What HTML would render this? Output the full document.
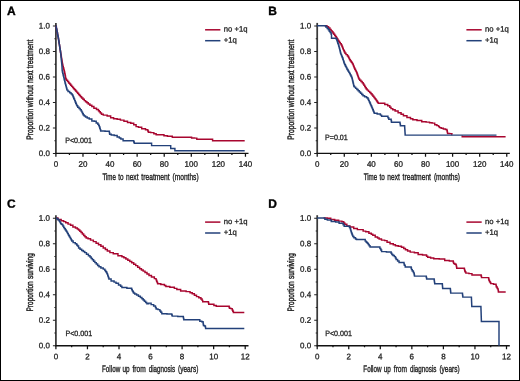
<!DOCTYPE html>
<html><head><meta charset="utf-8"><style>
html,body{margin:0;padding:0;background:#fff;}
svg{display:block;will-change:transform;}
text{font-family:"Liberation Sans",sans-serif;fill:#222;stroke:#222;stroke-width:0.28px;text-rendering:geometricPrecision;}
</style></head><body>
<svg width="520" height="381" viewBox="0 0 520 381">
<rect x="0" y="0" width="520" height="381" fill="#fff"/>
<path d="M55.90 22.90V153.45" fill="none" stroke="#3a3a3a" stroke-width="1.75"/>
<path d="M55.10 153.45H248.50" fill="none" stroke="#111" stroke-width="1.3"/>
<path d="M52.90 153.45H55.90M54.40 140.70H55.90M52.90 127.96H55.90M54.40 115.21H55.90M52.90 102.47H55.90M54.40 89.72H55.90M52.90 76.98H55.90M54.40 64.23H55.90M52.90 51.49H55.90M54.40 38.74H55.90M52.90 26.00H55.90" fill="none" stroke="#222" stroke-width="1.1"/>
<path d="M55.90 153.45V156.85M69.44 153.45V155.05M82.98 153.45V156.85M96.52 153.45V155.05M110.06 153.45V156.85M123.60 153.45V155.05M137.14 153.45V156.85M150.68 153.45V155.05M164.22 153.45V156.85M177.76 153.45V155.05M191.30 153.45V156.85M204.84 153.45V155.05M218.38 153.45V156.85M231.92 153.45V155.05M245.46 153.45V156.85" fill="none" stroke="#111" stroke-width="1.25"/>
<text transform="matrix(1 0.0005 0 1 0 -0.0249)" x="49.90" y="155.90" text-anchor="end" font-size="8.0">0.0</text>
<text transform="matrix(1 0.0005 0 1 0 -0.0249)" x="49.90" y="130.41" text-anchor="end" font-size="8.0">0.2</text>
<text transform="matrix(1 0.0005 0 1 0 -0.0249)" x="49.90" y="104.92" text-anchor="end" font-size="8.0">0.4</text>
<text transform="matrix(1 0.0005 0 1 0 -0.0249)" x="49.90" y="79.43" text-anchor="end" font-size="8.0">0.6</text>
<text transform="matrix(1 0.0005 0 1 0 -0.0249)" x="49.90" y="53.94" text-anchor="end" font-size="8.0">0.8</text>
<text transform="matrix(1 0.0005 0 1 0 -0.0249)" x="49.90" y="28.45" text-anchor="end" font-size="8.0">1.0</text>
<text transform="matrix(1 0.0005 0 1 0 -0.0279)" x="55.90" y="166.85" text-anchor="middle" font-size="8.0">0</text>
<text transform="matrix(1 0.0005 0 1 0 -0.0415)" x="82.98" y="166.85" text-anchor="middle" font-size="8.0">20</text>
<text transform="matrix(1 0.0005 0 1 0 -0.0550)" x="110.06" y="166.85" text-anchor="middle" font-size="8.0">40</text>
<text transform="matrix(1 0.0005 0 1 0 -0.0686)" x="137.14" y="166.85" text-anchor="middle" font-size="8.0">60</text>
<text transform="matrix(1 0.0005 0 1 0 -0.0821)" x="164.22" y="166.85" text-anchor="middle" font-size="8.0">80</text>
<text transform="matrix(1 0.0005 0 1 0 -0.0957)" x="191.30" y="166.85" text-anchor="middle" font-size="8.0">100</text>
<text transform="matrix(1 0.0005 0 1 0 -0.1092)" x="218.38" y="166.85" text-anchor="middle" font-size="8.0">120</text>
<text transform="matrix(1 0.0005 0 1 0 -0.1227)" x="245.46" y="166.85" text-anchor="middle" font-size="8.0">140</text>
<text transform="matrix(1 0.0005 0 1 0 -0.0512)" x="102.40" y="179.60" font-size="9.4" style="stroke-width:0.36px" textLength="13.50" lengthAdjust="spacingAndGlyphs">Time</text>
<text transform="matrix(1 0.0005 0 1 0 -0.0592)" x="118.30" y="179.60" font-size="9.4" style="stroke-width:0.36px" textLength="5.30" lengthAdjust="spacingAndGlyphs">to</text>
<text transform="matrix(1 0.0005 0 1 0 -0.0630)" x="126.00" y="179.60" font-size="9.4" style="stroke-width:0.36px" textLength="12.50" lengthAdjust="spacingAndGlyphs">next</text>
<text transform="matrix(1 0.0005 0 1 0 -0.0707)" x="141.30" y="179.60" font-size="9.4" style="stroke-width:0.36px" textLength="28.40" lengthAdjust="spacingAndGlyphs">treatment</text>
<text transform="matrix(1 0.0005 0 1 0 -0.0863)" x="172.60" y="179.60" font-size="9.4" style="stroke-width:0.36px" textLength="26.00" lengthAdjust="spacingAndGlyphs">(months)</text>
<text transform="translate(33.10 139.80) rotate(-90) matrix(1 0.0005 0 1 0 0)" x="0" y="0" font-size="9.4" style="stroke-width:0.4px" textLength="31.10" lengthAdjust="spacingAndGlyphs">Proportion</text>
<text transform="translate(33.10 107.20) rotate(-90) matrix(1 0.0005 0 1 0 0)" x="0" y="0" font-size="9.4" style="stroke-width:0.4px" textLength="22.10" lengthAdjust="spacingAndGlyphs">without</text>
<text transform="translate(33.10 82.90) rotate(-90) matrix(1 0.0005 0 1 0 0)" x="0" y="0" font-size="9.4" style="stroke-width:0.4px" textLength="12.50" lengthAdjust="spacingAndGlyphs">next</text>
<text transform="translate(33.10 68.40) rotate(-90) matrix(1 0.0005 0 1 0 0)" x="0" y="0" font-size="9.4" style="stroke-width:0.4px" textLength="28.90" lengthAdjust="spacingAndGlyphs">treatment</text>
<text transform="matrix(1 0.0005 0 1 0 -0.0326)" x="65.20" y="142.70" font-size="7.7" textLength="26.7" lengthAdjust="spacingAndGlyphs">P&lt;0.001</text>
<path d="M205.10 29.80H220.40" stroke="#a8062f" stroke-width="1.5"/>
<path d="M205.10 40.70H220.40" stroke="#23417a" stroke-width="1.5"/>
<text transform="matrix(1 0.0005 0 1 0 -0.1119)" x="223.80" y="31.60" font-size="7.7">no +1q</text>
<text transform="matrix(1 0.0005 0 1 0 -0.1119)" x="223.80" y="42.50" font-size="7.7">+1q</text>
<text transform="matrix(1 0.0005 0 1 0 -0.0035)" x="6.90" y="15.00" font-size="12" font-weight="bold" style="fill:#000;stroke:#000;stroke-width:0.35px">A</text>
<path d="M317.20 22.90V153.45" fill="none" stroke="#3a3a3a" stroke-width="1.75"/>
<path d="M316.40 153.45H509.80" fill="none" stroke="#111" stroke-width="1.3"/>
<path d="M314.20 153.45H317.20M315.70 140.70H317.20M314.20 127.96H317.20M315.70 115.21H317.20M314.20 102.47H317.20M315.70 89.72H317.20M314.20 76.98H317.20M315.70 64.23H317.20M314.20 51.49H317.20M315.70 38.74H317.20M314.20 26.00H317.20" fill="none" stroke="#222" stroke-width="1.1"/>
<path d="M317.20 153.45V156.85M330.74 153.45V155.05M344.28 153.45V156.85M357.82 153.45V155.05M371.36 153.45V156.85M384.90 153.45V155.05M398.44 153.45V156.85M411.98 153.45V155.05M425.52 153.45V156.85M439.06 153.45V155.05M452.60 153.45V156.85M466.14 153.45V155.05M479.68 153.45V156.85M493.22 153.45V155.05M506.76 153.45V156.85" fill="none" stroke="#111" stroke-width="1.25"/>
<text transform="matrix(1 0.0005 0 1 0 -0.1556)" x="311.20" y="155.90" text-anchor="end" font-size="8.0">0.0</text>
<text transform="matrix(1 0.0005 0 1 0 -0.1556)" x="311.20" y="130.41" text-anchor="end" font-size="8.0">0.2</text>
<text transform="matrix(1 0.0005 0 1 0 -0.1556)" x="311.20" y="104.92" text-anchor="end" font-size="8.0">0.4</text>
<text transform="matrix(1 0.0005 0 1 0 -0.1556)" x="311.20" y="79.43" text-anchor="end" font-size="8.0">0.6</text>
<text transform="matrix(1 0.0005 0 1 0 -0.1556)" x="311.20" y="53.94" text-anchor="end" font-size="8.0">0.8</text>
<text transform="matrix(1 0.0005 0 1 0 -0.1556)" x="311.20" y="28.45" text-anchor="end" font-size="8.0">1.0</text>
<text transform="matrix(1 0.0005 0 1 0 -0.1586)" x="317.20" y="166.85" text-anchor="middle" font-size="8.0">0</text>
<text transform="matrix(1 0.0005 0 1 0 -0.1721)" x="344.28" y="166.85" text-anchor="middle" font-size="8.0">20</text>
<text transform="matrix(1 0.0005 0 1 0 -0.1857)" x="371.36" y="166.85" text-anchor="middle" font-size="8.0">40</text>
<text transform="matrix(1 0.0005 0 1 0 -0.1992)" x="398.44" y="166.85" text-anchor="middle" font-size="8.0">60</text>
<text transform="matrix(1 0.0005 0 1 0 -0.2128)" x="425.52" y="166.85" text-anchor="middle" font-size="8.0">80</text>
<text transform="matrix(1 0.0005 0 1 0 -0.2263)" x="452.60" y="166.85" text-anchor="middle" font-size="8.0">100</text>
<text transform="matrix(1 0.0005 0 1 0 -0.2398)" x="479.68" y="166.85" text-anchor="middle" font-size="8.0">120</text>
<text transform="matrix(1 0.0005 0 1 0 -0.2534)" x="506.76" y="166.85" text-anchor="middle" font-size="8.0">140</text>
<text transform="matrix(1 0.0005 0 1 0 -0.1819)" x="363.70" y="179.60" font-size="9.4" style="stroke-width:0.36px" textLength="13.50" lengthAdjust="spacingAndGlyphs">Time</text>
<text transform="matrix(1 0.0005 0 1 0 -0.1898)" x="379.60" y="179.60" font-size="9.4" style="stroke-width:0.36px" textLength="5.30" lengthAdjust="spacingAndGlyphs">to</text>
<text transform="matrix(1 0.0005 0 1 0 -0.1937)" x="387.30" y="179.60" font-size="9.4" style="stroke-width:0.36px" textLength="12.50" lengthAdjust="spacingAndGlyphs">next</text>
<text transform="matrix(1 0.0005 0 1 0 -0.2013)" x="402.60" y="179.60" font-size="9.4" style="stroke-width:0.36px" textLength="28.40" lengthAdjust="spacingAndGlyphs">treatment</text>
<text transform="matrix(1 0.0005 0 1 0 -0.2170)" x="433.90" y="179.60" font-size="9.4" style="stroke-width:0.36px" textLength="26.00" lengthAdjust="spacingAndGlyphs">(months)</text>
<text transform="translate(294.40 139.80) rotate(-90) matrix(1 0.0005 0 1 0 0)" x="0" y="0" font-size="9.4" style="stroke-width:0.4px" textLength="31.10" lengthAdjust="spacingAndGlyphs">Proportion</text>
<text transform="translate(294.40 107.20) rotate(-90) matrix(1 0.0005 0 1 0 0)" x="0" y="0" font-size="9.4" style="stroke-width:0.4px" textLength="22.10" lengthAdjust="spacingAndGlyphs">without</text>
<text transform="translate(294.40 82.90) rotate(-90) matrix(1 0.0005 0 1 0 0)" x="0" y="0" font-size="9.4" style="stroke-width:0.4px" textLength="12.50" lengthAdjust="spacingAndGlyphs">next</text>
<text transform="translate(294.40 68.40) rotate(-90) matrix(1 0.0005 0 1 0 0)" x="0" y="0" font-size="9.4" style="stroke-width:0.4px" textLength="28.90" lengthAdjust="spacingAndGlyphs">treatment</text>
<text transform="matrix(1 0.0005 0 1 0 -0.1625)" x="325.00" y="140.40" font-size="7.7" textLength="22.8" lengthAdjust="spacingAndGlyphs">P=0.01</text>
<path d="M466.40 29.80H481.70" stroke="#a8062f" stroke-width="1.5"/>
<path d="M466.40 40.70H481.70" stroke="#23417a" stroke-width="1.5"/>
<text transform="matrix(1 0.0005 0 1 0 -0.2426)" x="485.10" y="31.60" font-size="7.7">no +1q</text>
<text transform="matrix(1 0.0005 0 1 0 -0.2426)" x="485.10" y="42.50" font-size="7.7">+1q</text>
<text transform="matrix(1 0.0005 0 1 0 -0.1341)" x="268.20" y="15.00" font-size="12" font-weight="bold" style="fill:#000;stroke:#000;stroke-width:0.35px">B</text>
<path d="M55.90 215.20V345.75" fill="none" stroke="#3a3a3a" stroke-width="1.75"/>
<path d="M55.10 345.75H248.50" fill="none" stroke="#111" stroke-width="1.3"/>
<path d="M52.90 345.75H55.90M54.40 333.00H55.90M52.90 320.26H55.90M54.40 307.51H55.90M52.90 294.77H55.90M54.40 282.02H55.90M52.90 269.28H55.90M54.40 256.53H55.90M52.90 243.79H55.90M54.40 231.05H55.90M52.90 218.30H55.90" fill="none" stroke="#222" stroke-width="1.1"/>
<path d="M55.90 345.75V349.15M71.67 345.75V347.35M87.45 345.75V349.15M103.22 345.75V347.35M119.00 345.75V349.15M134.78 345.75V347.35M150.55 345.75V349.15M166.32 345.75V347.35M182.10 345.75V349.15M197.88 345.75V347.35M213.65 345.75V349.15M229.43 345.75V347.35M245.20 345.75V349.15" fill="none" stroke="#111" stroke-width="1.25"/>
<text transform="matrix(1 0.0005 0 1 0 -0.0249)" x="49.90" y="348.20" text-anchor="end" font-size="8.0">0.0</text>
<text transform="matrix(1 0.0005 0 1 0 -0.0249)" x="49.90" y="322.71" text-anchor="end" font-size="8.0">0.2</text>
<text transform="matrix(1 0.0005 0 1 0 -0.0249)" x="49.90" y="297.22" text-anchor="end" font-size="8.0">0.4</text>
<text transform="matrix(1 0.0005 0 1 0 -0.0249)" x="49.90" y="271.73" text-anchor="end" font-size="8.0">0.6</text>
<text transform="matrix(1 0.0005 0 1 0 -0.0249)" x="49.90" y="246.24" text-anchor="end" font-size="8.0">0.8</text>
<text transform="matrix(1 0.0005 0 1 0 -0.0249)" x="49.90" y="220.75" text-anchor="end" font-size="8.0">1.0</text>
<text transform="matrix(1 0.0005 0 1 0 -0.0279)" x="55.90" y="359.15" text-anchor="middle" font-size="8.0">0</text>
<text transform="matrix(1 0.0005 0 1 0 -0.0437)" x="87.45" y="359.15" text-anchor="middle" font-size="8.0">2</text>
<text transform="matrix(1 0.0005 0 1 0 -0.0595)" x="119.00" y="359.15" text-anchor="middle" font-size="8.0">4</text>
<text transform="matrix(1 0.0005 0 1 0 -0.0753)" x="150.55" y="359.15" text-anchor="middle" font-size="8.0">6</text>
<text transform="matrix(1 0.0005 0 1 0 -0.0911)" x="182.10" y="359.15" text-anchor="middle" font-size="8.0">8</text>
<text transform="matrix(1 0.0005 0 1 0 -0.1068)" x="213.65" y="359.15" text-anchor="middle" font-size="8.0">10</text>
<text transform="matrix(1 0.0005 0 1 0 -0.1226)" x="245.20" y="359.15" text-anchor="middle" font-size="8.0">12</text>
<text transform="matrix(1 0.0005 0 1 0 -0.0510)" x="102.00" y="371.90" font-size="9.4" style="stroke-width:0.36px" textLength="18.20" lengthAdjust="spacingAndGlyphs">Follow</text>
<text transform="matrix(1 0.0005 0 1 0 -0.0612)" x="122.50" y="371.90" font-size="9.4" style="stroke-width:0.36px" textLength="7.10" lengthAdjust="spacingAndGlyphs">up</text>
<text transform="matrix(1 0.0005 0 1 0 -0.0663)" x="132.50" y="371.90" font-size="9.4" style="stroke-width:0.36px" textLength="13.20" lengthAdjust="spacingAndGlyphs">from</text>
<text transform="matrix(1 0.0005 0 1 0 -0.0743)" x="148.70" y="371.90" font-size="9.4" style="stroke-width:0.36px" textLength="26.40" lengthAdjust="spacingAndGlyphs">diagnosis</text>
<text transform="matrix(1 0.0005 0 1 0 -0.0891)" x="178.10" y="371.90" font-size="9.4" style="stroke-width:0.36px" textLength="20.20" lengthAdjust="spacingAndGlyphs">(years)</text>
<text transform="translate(33.10 311.50) rotate(-90) matrix(1 0.0005 0 1 0 0)" x="0" y="0" font-size="9.4" style="stroke-width:0.4px" textLength="30.20" lengthAdjust="spacingAndGlyphs">Proportion</text>
<text transform="translate(33.10 278.90) rotate(-90) matrix(1 0.0005 0 1 0 0)" x="0" y="0" font-size="9.4" style="stroke-width:0.4px" textLength="25.70" lengthAdjust="spacingAndGlyphs">surviving</text>
<text transform="matrix(1 0.0005 0 1 0 -0.0327)" x="65.40" y="335.80" font-size="7.7" textLength="26.7" lengthAdjust="spacingAndGlyphs">P&lt;0.001</text>
<path d="M205.10 222.10H220.40" stroke="#a8062f" stroke-width="1.5"/>
<path d="M205.10 233.00H220.40" stroke="#23417a" stroke-width="1.5"/>
<text transform="matrix(1 0.0005 0 1 0 -0.1119)" x="223.80" y="223.90" font-size="7.7">no +1q</text>
<text transform="matrix(1 0.0005 0 1 0 -0.1119)" x="223.80" y="234.80" font-size="7.7">+1q</text>
<text transform="matrix(1 0.0005 0 1 0 -0.0035)" x="6.90" y="207.70" font-size="12" font-weight="bold" style="fill:#000;stroke:#000;stroke-width:0.35px">C</text>
<path d="M317.20 215.20V345.75" fill="none" stroke="#3a3a3a" stroke-width="1.75"/>
<path d="M316.40 345.75H509.80" fill="none" stroke="#111" stroke-width="1.3"/>
<path d="M314.20 345.75H317.20M315.70 333.00H317.20M314.20 320.26H317.20M315.70 307.51H317.20M314.20 294.77H317.20M315.70 282.02H317.20M314.20 269.28H317.20M315.70 256.53H317.20M314.20 243.79H317.20M315.70 231.05H317.20M314.20 218.30H317.20" fill="none" stroke="#222" stroke-width="1.1"/>
<path d="M317.20 345.75V349.15M332.97 345.75V347.35M348.75 345.75V349.15M364.52 345.75V347.35M380.30 345.75V349.15M396.07 345.75V347.35M411.85 345.75V349.15M427.62 345.75V347.35M443.40 345.75V349.15M459.17 345.75V347.35M474.95 345.75V349.15M490.73 345.75V347.35M506.50 345.75V349.15" fill="none" stroke="#111" stroke-width="1.25"/>
<text transform="matrix(1 0.0005 0 1 0 -0.1556)" x="311.20" y="348.20" text-anchor="end" font-size="8.0">0.0</text>
<text transform="matrix(1 0.0005 0 1 0 -0.1556)" x="311.20" y="322.71" text-anchor="end" font-size="8.0">0.2</text>
<text transform="matrix(1 0.0005 0 1 0 -0.1556)" x="311.20" y="297.22" text-anchor="end" font-size="8.0">0.4</text>
<text transform="matrix(1 0.0005 0 1 0 -0.1556)" x="311.20" y="271.73" text-anchor="end" font-size="8.0">0.6</text>
<text transform="matrix(1 0.0005 0 1 0 -0.1556)" x="311.20" y="246.24" text-anchor="end" font-size="8.0">0.8</text>
<text transform="matrix(1 0.0005 0 1 0 -0.1556)" x="311.20" y="220.75" text-anchor="end" font-size="8.0">1.0</text>
<text transform="matrix(1 0.0005 0 1 0 -0.1586)" x="317.20" y="359.15" text-anchor="middle" font-size="8.0">0</text>
<text transform="matrix(1 0.0005 0 1 0 -0.1744)" x="348.75" y="359.15" text-anchor="middle" font-size="8.0">2</text>
<text transform="matrix(1 0.0005 0 1 0 -0.1902)" x="380.30" y="359.15" text-anchor="middle" font-size="8.0">4</text>
<text transform="matrix(1 0.0005 0 1 0 -0.2059)" x="411.85" y="359.15" text-anchor="middle" font-size="8.0">6</text>
<text transform="matrix(1 0.0005 0 1 0 -0.2217)" x="443.40" y="359.15" text-anchor="middle" font-size="8.0">8</text>
<text transform="matrix(1 0.0005 0 1 0 -0.2375)" x="474.95" y="359.15" text-anchor="middle" font-size="8.0">10</text>
<text transform="matrix(1 0.0005 0 1 0 -0.2533)" x="506.50" y="359.15" text-anchor="middle" font-size="8.0">12</text>
<text transform="matrix(1 0.0005 0 1 0 -0.1817)" x="363.30" y="371.90" font-size="9.4" style="stroke-width:0.36px" textLength="18.20" lengthAdjust="spacingAndGlyphs">Follow</text>
<text transform="matrix(1 0.0005 0 1 0 -0.1919)" x="383.80" y="371.90" font-size="9.4" style="stroke-width:0.36px" textLength="7.10" lengthAdjust="spacingAndGlyphs">up</text>
<text transform="matrix(1 0.0005 0 1 0 -0.1969)" x="393.80" y="371.90" font-size="9.4" style="stroke-width:0.36px" textLength="13.20" lengthAdjust="spacingAndGlyphs">from</text>
<text transform="matrix(1 0.0005 0 1 0 -0.2050)" x="410.00" y="371.90" font-size="9.4" style="stroke-width:0.36px" textLength="26.40" lengthAdjust="spacingAndGlyphs">diagnosis</text>
<text transform="matrix(1 0.0005 0 1 0 -0.2197)" x="439.40" y="371.90" font-size="9.4" style="stroke-width:0.36px" textLength="20.20" lengthAdjust="spacingAndGlyphs">(years)</text>
<text transform="translate(294.40 311.50) rotate(-90) matrix(1 0.0005 0 1 0 0)" x="0" y="0" font-size="9.4" style="stroke-width:0.4px" textLength="30.20" lengthAdjust="spacingAndGlyphs">Proportion</text>
<text transform="translate(294.40 278.90) rotate(-90) matrix(1 0.0005 0 1 0 0)" x="0" y="0" font-size="9.4" style="stroke-width:0.4px" textLength="25.70" lengthAdjust="spacingAndGlyphs">surviving</text>
<text transform="matrix(1 0.0005 0 1 0 -0.1626)" x="325.20" y="335.80" font-size="7.7" textLength="26.7" lengthAdjust="spacingAndGlyphs">P&lt;0.001</text>
<path d="M466.40 222.10H481.70" stroke="#a8062f" stroke-width="1.5"/>
<path d="M466.40 233.00H481.70" stroke="#23417a" stroke-width="1.5"/>
<text transform="matrix(1 0.0005 0 1 0 -0.2426)" x="485.10" y="223.90" font-size="7.7">no +1q</text>
<text transform="matrix(1 0.0005 0 1 0 -0.2426)" x="485.10" y="234.80" font-size="7.7">+1q</text>
<text transform="matrix(1 0.0005 0 1 0 -0.1341)" x="268.20" y="207.70" font-size="12" font-weight="bold" style="fill:#000;stroke:#000;stroke-width:0.35px">D</text>
<path d="M56.00 26.00 L56.13 26.00 L56.13 27.36 L56.40 27.36 L56.40 28.71 L56.67 28.71 L56.67 30.07 L56.93 30.07 L56.93 31.42 L57.20 31.42 L57.20 32.78 L57.47 32.78 L57.47 34.13 L57.73 34.13 L57.73 35.49 L58.00 35.49 L58.00 36.84 L58.27 36.84 L58.27 38.20 L58.40 38.20 L58.50 38.20 L58.50 39.48 L58.70 39.48 L58.70 40.76 L58.90 40.76 L58.90 42.05 L59.10 42.05 L59.10 43.33 L59.30 43.33 L59.30 44.61 L59.50 44.61 L59.50 45.89 L59.70 45.89 L59.70 47.17 L59.90 47.17 L59.90 48.45 L60.10 48.45 L60.10 49.74 L60.30 49.74 L60.30 51.02 L60.50 51.02 L60.50 52.30 L60.60 52.30 L60.70 52.30 L60.70 53.57 L60.91 53.57 L60.91 54.84 L61.12 54.84 L61.12 56.11 L61.34 56.11 L61.34 57.38 L61.55 57.38 L61.55 58.65 L61.76 58.65 L61.76 59.92 L61.97 59.92 L61.97 61.19 L62.18 61.19 L62.18 62.46 L62.39 62.46 L62.39 63.73 L62.60 63.73 L62.60 65.00 L62.70 65.00 L62.89 65.00 L62.89 66.38 L63.26 66.38 L63.26 67.75 L63.64 67.75 L63.64 69.12 L64.01 69.12 L64.01 70.50 L64.20 70.50 L64.37 70.50 L64.37 72.00 L64.70 72.00 L64.70 73.50 L65.03 73.50 L65.03 75.00 L65.20 75.00 L65.32 75.00 L65.32 76.30 L65.55 76.30 L65.55 77.60 L65.78 77.60 L65.78 78.90 L65.90 78.90 L66.45 78.90 L66.45 80.23 L67.55 80.23 L67.55 81.57 L68.65 81.57 L68.65 82.90 L69.20 82.90 L69.69 82.90 L69.69 84.05 L70.66 84.05 L70.66 85.20 L71.64 85.20 L71.64 86.35 L72.61 86.35 L72.61 87.50 L73.10 87.50 L73.60 87.50 L73.60 88.65 L74.60 88.65 L74.60 89.80 L75.60 89.80 L75.60 90.95 L76.60 90.95 L76.60 92.10 L77.10 92.10 L77.59 92.10 L77.59 93.25 L78.56 93.25 L78.56 94.40 L79.54 94.40 L79.54 95.55 L80.51 95.55 L80.51 96.70 L81.00 96.70 L81.65 96.70 L81.65 98.00 L82.95 98.00 L82.95 99.30 L84.25 99.30 L84.25 100.60 L84.90 100.60 L85.57 100.60 L85.57 101.70 L86.90 101.70 L86.90 102.80 L88.23 102.80 L88.23 103.90 L88.90 103.90 L89.88 103.90 L89.88 105.20 L91.82 105.20 L91.82 106.50 L92.80 106.50 L93.90 106.50 L93.90 108.30 L95.00 108.30 L96.50 108.30 L96.50 109.50 L98.00 109.50 L98.42 109.50 L98.42 110.65 L99.28 110.65 L99.28 111.80 L99.70 111.80 L100.30 111.80 L100.30 113.00 L101.50 113.00 L101.50 114.20 L102.10 114.20 L103.30 114.20 L103.30 115.10 L104.50 115.10 L107.15 115.10 L107.15 116.00 L109.80 116.00 L110.65 116.00 L110.65 117.70 L111.50 117.70 L113.60 117.70 L113.60 118.70 L115.70 118.70 L117.15 118.70 L117.15 119.30 L118.60 119.30 L120.40 119.30 L120.40 120.10 L122.20 120.10 L123.95 120.10 L123.95 121.30 L125.70 121.30 L127.50 121.30 L127.50 122.50 L129.30 122.50 L130.75 122.50 L130.75 123.30 L132.20 123.30 L133.70 123.30 L133.70 124.80 L135.20 124.80 L136.10 124.80 L136.10 126.60 L137.00 126.60 L138.45 126.60 L138.45 127.20 L139.90 127.20 L141.70 127.20 L141.70 128.70 L143.50 128.70 L145.50 128.70 L145.50 129.80 L147.50 129.80 L147.80 129.80 L147.80 131.00 L148.40 131.00 L148.40 132.20 L148.70 132.20 L150.70 132.20 L150.70 132.60 L152.70 132.60 L153.85 132.60 L153.85 133.80 L155.00 133.80 L156.15 133.80 L156.15 134.70 L157.30 134.70 L163.10 134.70 L163.95 134.70 L163.95 135.80 L164.80 135.80 L167.40 135.80 L167.40 136.20 L170.00 136.20 L172.30 136.20 L172.30 137.20 L174.60 137.20 L190.70 137.20 L191.60 137.20 L191.60 137.90 L192.50 137.90 L194.50 137.90 L194.50 138.10 L196.50 138.10 L196.80 138.10 L196.80 139.30 L197.10 139.30 L212.60 139.30 L212.60 140.80 L244.70 140.80" fill="none" stroke="#a8062f" stroke-width="1.45" stroke-linejoin="miter"/>
<path d="M56.00 26.00 L56.13 26.00 L56.13 27.36 L56.40 27.36 L56.40 28.71 L56.67 28.71 L56.67 30.07 L56.93 30.07 L56.93 31.42 L57.20 31.42 L57.20 32.78 L57.47 32.78 L57.47 34.13 L57.73 34.13 L57.73 35.49 L58.00 35.49 L58.00 36.84 L58.27 36.84 L58.27 38.20 L58.40 38.20 L58.50 38.20 L58.50 39.48 L58.70 39.48 L58.70 40.76 L58.90 40.76 L58.90 42.05 L59.10 42.05 L59.10 43.33 L59.30 43.33 L59.30 44.61 L59.50 44.61 L59.50 45.89 L59.70 45.89 L59.70 47.17 L59.90 47.17 L59.90 48.45 L60.10 48.45 L60.10 49.74 L60.30 49.74 L60.30 51.02 L60.50 51.02 L60.50 52.30 L60.60 52.30 L60.66 52.30 L60.66 53.57 L60.80 53.57 L60.80 54.84 L60.93 54.84 L60.93 56.11 L61.06 56.11 L61.06 57.38 L61.19 57.38 L61.19 58.65 L61.32 58.65 L61.32 59.92 L61.45 59.92 L61.45 61.19 L61.58 61.19 L61.58 62.46 L61.71 62.46 L61.71 63.73 L61.84 63.73 L61.84 65.00 L61.90 65.00 L61.94 65.00 L61.94 66.38 L62.01 66.38 L62.01 67.75 L62.09 67.75 L62.09 69.12 L62.16 69.12 L62.16 70.50 L62.20 70.50 L62.38 70.50 L62.38 72.00 L62.75 72.00 L62.75 73.50 L63.12 73.50 L63.12 75.00 L63.30 75.00 L63.46 75.00 L63.46 76.32 L63.77 76.32 L63.77 77.63 L64.09 77.63 L64.09 78.95 L64.41 78.95 L64.41 80.27 L64.72 80.27 L64.72 81.58 L65.04 81.58 L65.04 82.90 L65.20 82.90 L65.37 82.90 L65.37 84.10 L65.70 84.10 L65.70 85.30 L66.03 85.30 L66.03 86.50 L66.37 86.50 L66.37 87.70 L66.70 87.70 L66.70 88.90 L67.03 88.90 L67.03 90.10 L67.20 90.10 L68.03 90.10 L68.03 91.40 L69.68 91.40 L69.68 92.70 L70.50 92.70 L71.00 92.70 L71.00 93.70 L72.00 93.70 L72.00 94.70 L72.50 94.70 L72.74 94.70 L72.74 95.85 L73.21 95.85 L73.21 97.00 L73.69 97.00 L73.69 98.15 L74.16 98.15 L74.16 99.30 L74.40 99.30 L74.67 99.30 L74.67 100.60 L75.21 100.60 L75.21 101.90 L75.75 101.90 L75.75 103.20 L76.29 103.20 L76.29 104.50 L76.83 104.50 L76.83 105.80 L77.10 105.80 L77.75 105.80 L77.75 107.15 L79.05 107.15 L79.05 108.50 L79.70 108.50 L80.20 108.50 L80.20 109.80 L81.20 109.80 L81.20 111.10 L81.70 111.10 L82.02 111.10 L82.02 112.40 L82.65 112.40 L82.65 113.70 L83.28 113.70 L83.28 115.00 L83.60 115.00 L84.25 115.00 L84.25 116.00 L85.55 116.00 L85.55 117.00 L86.20 117.00 L87.20 117.00 L87.20 118.00 L89.20 118.00 L89.20 119.00 L90.20 119.00 L91.85 119.00 L91.85 120.90 L93.50 120.90 L94.25 120.90 L94.25 121.30 L95.00 121.30 L96.20 121.30 L96.20 123.00 L97.40 123.00 L97.83 123.00 L97.83 124.20 L98.67 124.20 L98.67 125.40 L99.10 125.40 L99.32 125.40 L99.32 126.80 L99.77 126.80 L99.77 128.20 L100.22 128.20 L100.22 129.60 L100.67 129.60 L100.67 131.00 L100.90 131.00 L105.05 131.00 L105.05 131.30 L109.20 131.30 L109.35 131.30 L109.35 132.80 L109.65 132.80 L109.65 134.30 L109.80 134.30 L111.25 134.30 L111.25 134.90 L112.70 134.90 L114.20 134.90 L114.20 135.50 L115.70 135.50 L117.15 135.50 L117.15 136.90 L118.60 136.90 L119.35 136.90 L119.35 137.95 L120.85 137.95 L120.85 139.00 L121.60 139.00 L123.10 139.00 L123.10 140.80 L124.60 140.80 L133.40 140.80 L133.70 140.80 L133.70 142.00 L134.30 142.00 L134.30 143.20 L134.60 143.20 L151.60 143.20 L151.60 145.60 L170.70 145.60 L170.70 148.40 L174.90 148.40 L174.90 150.70 L244.70 150.70" fill="none" stroke="#23417a" stroke-width="1.45" stroke-linejoin="miter"/>
<path d="M324.50 25.70 L326.00 25.70 L326.95 25.70 L326.95 26.60 L327.90 26.60 L328.57 26.60 L328.57 28.00 L329.93 28.00 L329.93 29.40 L330.60 29.40 L331.07 29.40 L331.07 30.60 L332.00 30.60 L332.00 31.80 L332.93 31.80 L332.93 33.00 L333.40 33.00 L333.85 33.00 L333.85 34.23 L334.75 34.23 L334.75 35.47 L335.65 35.47 L335.65 36.70 L336.10 36.70 L336.45 36.70 L336.45 37.85 L337.15 37.85 L337.15 39.00 L337.85 39.00 L337.85 40.15 L338.55 40.15 L338.55 41.30 L338.90 41.30 L339.37 41.30 L339.37 42.53 L340.30 42.53 L340.30 43.77 L341.23 43.77 L341.23 45.00 L341.70 45.00 L341.93 45.00 L341.93 46.15 L342.38 46.15 L342.38 47.30 L342.82 47.30 L342.82 48.45 L343.27 48.45 L343.27 49.60 L343.50 49.60 L343.80 49.60 L343.80 50.80 L344.40 50.80 L344.40 52.00 L345.00 52.00 L345.00 53.20 L345.30 53.20 L346.00 53.20 L346.00 54.60 L347.40 54.60 L347.40 56.00 L348.10 56.00 L348.40 56.00 L348.40 57.23 L349.00 57.23 L349.00 58.47 L349.60 58.47 L349.60 59.70 L349.90 59.70 L350.37 59.70 L350.37 60.93 L351.30 60.93 L351.30 62.17 L352.23 62.17 L352.23 63.40 L352.70 63.40 L352.93 63.40 L352.93 64.55 L353.38 64.55 L353.38 65.70 L353.82 65.70 L353.82 66.85 L354.27 66.85 L354.27 68.00 L354.50 68.00 L354.82 68.00 L354.82 69.20 L355.45 69.20 L355.45 70.40 L356.08 70.40 L356.08 71.60 L356.40 71.60 L356.62 71.60 L356.62 72.83 L357.07 72.83 L357.07 74.07 L357.52 74.07 L357.52 75.30 L357.97 75.30 L357.97 76.53 L358.42 76.53 L358.42 77.77 L358.87 77.77 L358.87 79.00 L359.10 79.00 L359.72 79.00 L359.72 80.23 L360.95 80.23 L360.95 81.47 L362.18 81.47 L362.18 82.70 L362.80 82.70 L363.18 82.70 L363.18 83.94 L363.94 83.94 L363.94 85.18 L364.70 85.18 L364.70 86.42 L365.46 86.42 L365.46 87.66 L366.22 87.66 L366.22 88.90 L366.60 88.90 L367.21 88.90 L367.21 90.12 L368.44 90.12 L368.44 91.35 L369.66 91.35 L369.66 92.57 L370.89 92.57 L370.89 93.80 L371.50 93.80 L371.99 93.80 L371.99 95.03 L372.96 95.03 L372.96 96.25 L373.94 96.25 L373.94 97.47 L374.91 97.47 L374.91 98.70 L375.40 98.70 L375.80 98.70 L375.80 99.85 L376.60 99.85 L376.60 101.00 L377.40 101.00 L377.40 102.15 L378.20 102.15 L378.20 103.30 L378.60 103.30 L383.30 103.30 L384.77 103.30 L384.77 104.50 L387.72 104.50 L387.72 105.70 L389.20 105.70 L389.80 105.70 L389.80 107.15 L391.00 107.15 L391.00 108.60 L391.60 108.60 L392.78 108.60 L392.78 109.80 L395.12 109.80 L395.12 111.00 L396.30 111.00 L398.10 111.00 L398.10 112.70 L399.90 112.70 L401.07 112.70 L401.07 114.20 L403.43 114.20 L403.43 115.70 L404.60 115.70 L406.95 115.70 L406.95 117.50 L409.30 117.50 L410.48 117.50 L410.48 118.65 L412.83 118.65 L412.83 119.80 L414.00 119.80 L417.00 119.80 L417.00 120.40 L420.00 120.40 L421.75 120.40 L421.75 121.80 L423.50 121.80 L426.10 121.80 L426.10 122.10 L428.70 122.10 L429.55 122.10 L429.55 122.80 L430.40 122.80 L432.10 122.80 L432.10 123.10 L433.80 123.10 L434.70 123.10 L434.70 124.70 L435.60 124.70 L436.90 124.70 L436.90 125.60 L438.20 125.60 L438.62 125.60 L438.62 126.60 L439.48 126.60 L439.48 127.60 L439.90 127.60 L441.20 127.60 L441.20 128.20 L442.50 128.20 L443.35 128.20 L443.35 129.00 L444.20 129.00 L445.50 129.00 L445.50 129.50 L446.80 129.50 L446.95 129.50 L446.95 130.80 L447.25 130.80 L447.25 132.10 L447.55 132.10 L447.55 133.40 L447.70 133.40 L449.60 133.40 L449.60 133.60 L451.50 133.60 L451.90 133.60 L451.90 134.60 L452.30 134.60M462.20 135.60 L462.20 136.80 L505.60 136.80" fill="none" stroke="#a8062f" stroke-width="1.45" stroke-linejoin="miter"/>
<path d="M317.00 25.70 L325.10 25.70 L325.80 25.70 L325.80 27.05 L327.20 27.05 L327.20 28.40 L327.90 28.40 L328.35 28.40 L328.35 29.80 L329.25 29.80 L329.25 31.20 L329.70 31.20 L330.15 31.20 L330.15 32.55 L331.05 32.55 L331.05 33.90 L331.50 33.90 L331.50 38.20 L336.10 38.20 L336.35 38.20 L336.35 39.30 L336.85 39.30 L336.85 40.40 L337.10 40.40 L337.33 40.40 L337.33 41.77 L337.78 41.77 L337.78 43.15 L338.23 43.15 L338.23 44.52 L338.68 44.52 L338.68 45.90 L338.90 45.90 L339.05 45.90 L339.05 47.12 L339.35 47.12 L339.35 48.33 L339.65 48.33 L339.65 49.55 L339.95 49.55 L339.95 50.77 L340.25 50.77 L340.25 51.98 L340.55 51.98 L340.55 53.20 L340.70 53.20 L340.94 53.20 L340.94 54.35 L341.41 54.35 L341.41 55.50 L341.89 55.50 L341.89 56.65 L342.36 56.65 L342.36 57.80 L342.60 57.80 L342.83 57.80 L342.83 59.20 L343.28 59.20 L343.28 60.60 L343.73 60.60 L343.73 62.00 L344.18 62.00 L344.18 63.40 L344.40 63.40 L344.75 63.40 L344.75 64.78 L345.45 64.78 L345.45 66.15 L346.15 66.15 L346.15 67.53 L346.85 67.53 L346.85 68.90 L347.20 68.90 L347.54 68.90 L347.54 70.05 L348.21 70.05 L348.21 71.20 L348.89 71.20 L348.89 72.35 L349.56 72.35 L349.56 73.50 L349.90 73.50 L350.22 73.50 L350.22 74.70 L350.85 74.70 L350.85 75.90 L351.48 75.90 L351.48 77.10 L351.80 77.10 L351.95 77.10 L351.95 78.33 L352.25 78.33 L352.25 79.57 L352.55 79.57 L352.55 80.80 L352.85 80.80 L352.85 82.03 L353.15 82.03 L353.15 83.27 L353.45 83.27 L353.45 84.50 L353.60 84.50 L353.70 84.50 L353.70 85.90 L353.80 85.90 L354.41 85.90 L354.41 87.12 L355.64 87.12 L355.64 88.35 L356.86 88.35 L356.86 89.57 L358.09 89.57 L358.09 90.80 L358.70 90.80 L359.31 90.80 L359.31 92.03 L360.54 92.03 L360.54 93.25 L361.76 93.25 L361.76 94.47 L362.99 94.47 L362.99 95.70 L363.60 95.70 L364.60 95.70 L364.60 96.70 L366.60 96.70 L366.60 97.70 L367.60 97.70 L367.92 97.70 L367.92 99.03 L368.55 99.03 L368.55 100.37 L369.18 100.37 L369.18 101.70 L369.50 101.70 L369.80 101.70 L369.80 103.06 L370.40 103.06 L370.40 104.42 L371.00 104.42 L371.00 105.78 L371.60 105.78 L371.60 107.14 L372.20 107.14 L372.20 108.50 L372.50 108.50 L372.75 108.50 L372.75 109.70 L373.25 109.70 L373.25 110.90 L373.75 110.90 L373.75 112.10 L374.25 112.10 L374.25 113.30 L374.50 113.30 L377.15 113.30 L377.15 113.90 L379.80 113.90 L380.40 113.90 L380.40 115.10 L381.60 115.10 L381.60 116.30 L382.20 116.30 L387.50 116.30 L387.93 116.30 L387.93 117.75 L388.77 117.75 L388.77 119.20 L389.20 119.20 L391.00 119.20 L391.15 119.20 L391.15 120.70 L391.45 120.70 L391.45 122.20 L391.60 122.20 L399.90 122.20 L400.00 122.20 L400.00 123.37 L400.20 123.37 L400.20 124.53 L400.40 124.53 L400.40 125.70 L400.50 125.70 L404.60 125.70 L404.64 125.70 L404.64 127.04 L404.73 127.04 L404.73 128.39 L404.81 128.39 L404.81 129.73 L404.90 129.73 L404.90 131.07 L404.99 131.07 L404.99 132.41 L405.07 132.41 L405.07 133.76 L405.16 133.76 L405.16 135.10 L405.20 135.10 L496.50 135.10" fill="none" stroke="#23417a" stroke-width="1.45" stroke-linejoin="miter"/>
<path d="M56.00 217.90 L57.95 217.90 L57.95 219.50 L59.90 219.50 L61.15 219.50 L61.15 220.70 L62.40 220.70 L63.65 220.70 L63.65 221.60 L64.90 221.60 L65.75 221.60 L65.75 222.80 L66.60 222.80 L68.05 222.80 L68.05 224.10 L69.50 224.10 L70.55 224.10 L70.55 225.30 L71.60 225.30 L72.90 225.30 L72.90 227.00 L74.20 227.00 L75.45 227.00 L75.45 227.90 L76.70 227.90 L77.33 227.90 L77.33 228.95 L78.58 228.95 L78.58 230.00 L79.20 230.00 L79.83 230.00 L79.83 231.25 L81.08 231.25 L81.08 232.50 L81.70 232.50 L82.35 232.50 L82.35 233.95 L83.65 233.95 L83.65 235.40 L84.30 235.40 L84.92 235.40 L84.92 236.70 L86.17 236.70 L86.17 238.00 L86.80 238.00 L88.05 238.00 L88.05 238.80 L89.30 238.80 L90.55 238.80 L90.55 240.10 L91.80 240.10 L93.35 240.10 L93.35 241.60 L94.90 241.60 L96.10 241.60 L96.10 243.15 L98.50 243.15 L98.50 244.70 L99.70 244.70 L100.88 244.70 L100.88 246.30 L103.22 246.30 L103.22 247.90 L104.40 247.90 L105.38 247.90 L105.38 249.45 L107.32 249.45 L107.32 251.00 L108.30 251.00 L109.90 251.00 L109.90 252.60 L111.50 252.60 L113.25 252.60 L113.25 253.80 L115.00 253.80 L117.95 253.80 L117.95 255.70 L120.90 255.70 L121.90 255.70 L121.90 256.70 L123.90 256.70 L123.90 257.70 L124.90 257.70 L125.88 257.70 L125.88 259.00 L127.83 259.00 L127.83 260.30 L128.80 260.30 L129.78 260.30 L129.78 261.55 L131.72 261.55 L131.72 262.80 L132.70 262.80 L133.70 262.80 L133.70 264.20 L135.70 264.20 L135.70 265.60 L136.70 265.60 L137.67 265.60 L137.67 267.15 L139.62 267.15 L139.62 268.70 L140.60 268.70 L141.45 268.70 L141.45 269.90 L143.15 269.90 L143.15 271.10 L144.00 271.10 L145.00 271.10 L145.00 272.53 L147.00 272.53 L147.00 273.97 L149.00 273.97 L149.00 275.40 L150.00 275.40 L151.45 275.40 L151.45 277.00 L154.35 277.00 L154.35 278.60 L155.80 278.60 L156.06 278.60 L156.06 279.88 L156.59 279.88 L156.59 281.15 L157.11 281.15 L157.11 282.42 L157.64 282.42 L157.64 283.70 L157.90 283.70 L160.80 283.70 L160.80 284.40 L163.70 284.40 L164.42 284.40 L164.42 285.45 L165.88 285.45 L165.88 286.50 L166.60 286.50 L169.85 286.50 L169.85 287.30 L173.10 287.30 L174.35 287.30 L174.35 288.35 L176.85 288.35 L176.85 289.40 L178.10 289.40 L180.65 289.40 L180.65 290.90 L183.20 290.90 L186.10 290.90 L186.10 291.60 L189.00 291.60 L190.07 291.60 L190.07 292.70 L192.22 292.70 L192.22 293.80 L193.30 293.80 L194.38 293.80 L194.38 295.20 L196.52 295.20 L196.52 296.60 L197.60 296.60 L198.80 296.60 L198.80 297.70 L200.00 297.70 L200.90 297.70 L200.90 298.90 L201.80 298.90 L202.10 298.90 L202.10 300.35 L202.70 300.35 L202.70 301.80 L203.00 301.80 L208.30 301.80 L208.45 301.80 L208.45 303.00 L208.75 303.00 L208.75 304.20 L208.90 304.20 L213.00 304.20 L213.90 304.20 L213.90 305.40 L214.80 305.40 L216.25 305.40 L216.25 306.20 L217.70 306.20 L229.00 306.20 L229.15 306.20 L229.15 307.25 L229.45 307.25 L229.45 308.30 L229.60 308.30 L230.75 308.30 L230.75 308.60 L231.90 308.60 L232.20 308.60 L232.20 309.90 L232.80 309.90 L232.80 311.20 L233.40 311.20 L233.40 312.50 L233.70 312.50 L244.30 312.50" fill="none" stroke="#a8062f" stroke-width="1.45" stroke-linejoin="miter"/>
<path d="M56.00 217.90 L56.75 217.90 L56.75 218.90 L58.25 218.90 L58.25 219.90 L59.00 219.90 L59.35 219.90 L59.35 221.17 L60.05 221.17 L60.05 222.43 L60.75 222.43 L60.75 223.70 L61.10 223.70 L61.75 223.70 L61.75 224.50 L62.40 224.50 L62.82 224.50 L62.82 225.95 L63.67 225.95 L63.67 227.40 L64.10 227.40 L64.52 227.40 L64.52 228.70 L65.38 228.70 L65.38 230.00 L65.80 230.00 L66.20 230.00 L66.20 231.25 L67.00 231.25 L67.00 232.50 L67.40 232.50 L67.68 232.50 L67.68 233.60 L68.25 233.60 L68.25 234.70 L68.82 234.70 L68.82 235.80 L69.10 235.80 L69.52 235.80 L69.52 237.10 L70.38 237.10 L70.38 238.40 L70.80 238.40 L71.12 238.40 L71.12 239.65 L71.78 239.65 L71.78 240.90 L72.10 240.90 L73.15 240.90 L73.15 242.60 L74.20 242.60 L75.25 242.60 L75.25 243.80 L76.30 243.80 L76.72 243.80 L76.72 244.90 L77.57 244.90 L77.57 246.00 L78.00 246.00 L78.60 246.00 L78.60 247.90 L79.20 247.90 L80.03 247.90 L80.03 249.20 L81.68 249.20 L81.68 250.50 L82.50 250.50 L83.25 250.50 L83.25 251.55 L84.75 251.55 L84.75 252.60 L85.50 252.60 L86.47 252.60 L86.47 254.15 L88.42 254.15 L88.42 255.70 L89.40 255.70 L90.00 255.70 L90.00 257.07 L91.20 257.07 L91.20 258.45 L92.40 258.45 L92.40 259.82 L93.60 259.82 L93.60 261.20 L94.20 261.20 L94.89 261.20 L94.89 262.60 L96.26 262.60 L96.26 264.00 L97.64 264.00 L97.64 265.40 L99.01 265.40 L99.01 266.80 L99.70 266.80 L100.88 266.80 L100.88 267.95 L103.22 267.95 L103.22 269.10 L104.40 269.10 L104.85 269.10 L104.85 270.43 L105.75 270.43 L105.75 271.77 L106.65 271.77 L106.65 273.10 L107.10 273.10 L107.30 273.10 L107.30 274.28 L107.70 274.28 L107.70 275.46 L108.10 275.46 L108.10 276.64 L108.50 276.64 L108.50 277.82 L108.90 277.82 L108.90 279.00 L109.10 279.00 L111.10 279.00 L111.10 280.90 L113.10 280.90 L114.07 280.90 L114.07 282.10 L116.02 282.10 L116.02 283.30 L117.00 283.30 L118.50 283.30 L118.50 285.00 L120.00 285.00 L120.62 285.00 L120.62 286.25 L121.88 286.25 L121.88 287.50 L122.50 287.50 L126.90 287.50 L126.90 288.30 L131.30 288.30 L131.61 288.30 L131.61 289.48 L132.24 289.48 L132.24 290.65 L132.86 290.65 L132.86 291.83 L133.49 291.83 L133.49 293.00 L133.80 293.00 L134.73 293.00 L134.73 294.00 L136.58 294.00 L136.58 295.00 L137.50 295.00 L138.45 295.00 L138.45 296.25 L140.35 296.25 L140.35 297.50 L141.30 297.50 L141.92 297.50 L141.92 298.77 L143.15 298.77 L143.15 300.03 L144.38 300.03 L144.38 301.30 L145.00 301.30 L145.62 301.30 L145.62 302.55 L146.88 302.55 L146.88 303.80 L147.50 303.80 L148.75 303.80 L148.75 303.10 L150.00 303.10 L151.10 303.10 L151.10 304.60 L152.20 304.60 L153.65 304.60 L153.65 306.00 L155.10 306.00 L155.45 306.00 L155.45 307.45 L156.15 307.45 L156.15 308.90 L156.50 308.90 L157.95 308.90 L157.95 309.60 L159.40 309.60 L159.88 309.60 L159.88 310.97 L160.85 310.97 L160.85 312.33 L161.82 312.33 L161.82 313.70 L162.30 313.70 L166.95 313.70 L166.95 314.00 L171.60 314.00 L171.80 314.00 L171.80 315.05 L172.20 315.05 L172.20 316.10 L172.40 316.10 L177.80 316.10 L177.80 316.40 L183.20 316.40 L183.32 316.40 L183.32 317.50 L183.55 317.50 L183.55 318.60 L183.78 318.60 L183.78 319.70 L183.90 319.70 L199.10 319.70 L199.80 319.70 L199.80 321.20 L200.50 321.20 L201.75 321.20 L201.75 321.70 L203.00 321.70 L203.08 321.70 L203.08 322.97 L203.25 322.97 L203.25 324.23 L203.42 324.23 L203.42 325.50 L203.50 325.50 L204.40 325.50 L204.40 326.00 L205.30 326.00 L205.40 326.00 L205.40 327.20 L205.60 327.20 L205.60 328.40 L205.70 328.40 L244.30 328.40" fill="none" stroke="#23417a" stroke-width="1.45" stroke-linejoin="miter"/>
<path d="M323.50 217.90 L325.80 217.90 L327.30 217.90 L327.30 218.30 L328.80 218.30 L330.75 218.30 L330.75 219.50 L332.70 219.50 L334.70 219.50 L334.70 220.30 L336.70 220.30 L338.65 220.30 L338.65 221.10 L340.60 221.10 L341.90 221.10 L341.90 221.70 L343.20 221.70 L343.73 221.70 L343.73 223.00 L344.78 223.00 L344.78 224.30 L345.30 224.30 L346.85 224.30 L346.85 225.90 L348.40 225.90 L350.00 225.90 L350.00 226.90 L351.60 226.90 L353.70 226.90 L353.70 228.50 L355.80 228.50 L357.35 228.50 L357.35 229.60 L358.90 229.60 L362.10 229.60 L363.15 229.60 L363.15 231.10 L364.20 231.10 L365.75 231.10 L365.75 231.70 L367.30 231.70 L368.90 231.70 L368.90 233.20 L370.50 233.20 L371.27 233.20 L371.27 234.25 L372.82 234.25 L372.82 235.30 L373.60 235.30 L375.20 235.30 L375.20 236.90 L376.80 236.90 L377.57 236.90 L377.57 237.95 L379.12 237.95 L379.12 239.00 L379.90 239.00 L381.50 239.00 L381.50 240.10 L383.10 240.10 L384.65 240.10 L384.65 240.60 L386.20 240.60 L387.05 240.60 L387.05 242.20 L387.90 242.20 L390.05 242.20 L390.05 243.70 L392.20 243.70 L393.27 243.70 L393.27 244.75 L395.42 244.75 L395.42 245.80 L396.50 245.80 L398.25 245.80 L398.25 246.30 L400.00 246.30 L401.45 246.30 L401.45 247.20 L402.90 247.20 L403.75 247.20 L403.75 248.50 L405.45 248.50 L405.45 249.80 L406.30 249.80 L407.60 249.80 L407.60 250.95 L410.20 250.95 L410.20 252.10 L411.50 252.10 L414.40 252.10 L414.40 252.70 L417.30 252.70 L418.15 252.70 L418.15 254.40 L419.00 254.40 L422.50 254.40 L422.50 255.00 L426.00 255.00 L426.57 255.00 L426.57 256.15 L427.73 256.15 L427.73 257.30 L428.30 257.30 L430.60 257.30 L430.60 257.90 L432.90 257.90 L433.75 257.90 L433.75 258.70 L434.60 258.70 L439.20 258.70 L439.20 259.00 L443.80 259.00 L444.70 259.00 L444.70 260.50 L445.60 260.50 L449.35 260.50 L449.35 261.00 L453.10 261.00 L453.28 261.00 L453.28 262.25 L453.62 262.25 L453.62 263.50 L453.80 263.50 L454.90 263.50 L454.90 264.20 L456.00 264.20 L456.15 264.20 L456.15 265.53 L456.45 265.53 L456.45 266.87 L456.75 266.87 L456.75 268.20 L456.90 268.20 L464.20 268.20 L464.38 268.20 L464.38 269.55 L464.73 269.55 L464.73 270.90 L464.90 270.90 L465.22 270.90 L465.22 272.00 L465.88 272.00 L465.88 273.10 L466.20 273.10 L468.90 273.10 L468.90 273.60 L471.60 273.60 L471.95 273.60 L471.95 274.90 L472.30 274.90 L481.00 274.90 L481.18 274.90 L481.18 276.25 L481.52 276.25 L481.52 277.60 L481.70 277.60 L488.50 277.60 L488.65 277.60 L488.65 278.95 L488.95 278.95 L488.95 280.30 L489.10 280.30 L489.43 280.30 L489.43 281.40 L490.10 281.40 L490.10 282.50 L490.77 282.50 L490.77 283.60 L491.10 283.60 L493.50 283.60 L493.50 284.30 L495.90 284.30 L496.05 284.30 L496.05 285.65 L496.35 285.65 L496.35 287.00 L496.50 287.00 L497.20 287.00 L497.20 288.40 L497.90 288.40 L498.00 288.40 L498.00 289.60 L498.20 289.60 L498.20 290.80 L498.40 290.80 L498.40 292.00 L498.50 292.00 L505.70 292.00" fill="none" stroke="#a8062f" stroke-width="1.45" stroke-linejoin="miter"/>
<path d="M317.00 217.90 L323.90 217.90 L324.85 217.90 L324.85 219.30 L325.80 219.30 L327.30 219.30 L327.30 219.90 L328.80 219.90 L331.25 219.90 L331.25 221.50 L333.70 221.50 L335.65 221.50 L335.65 221.90 L337.60 221.90 L339.10 221.90 L339.10 223.30 L340.60 223.30 L342.60 223.30 L343.12 223.30 L343.12 224.75 L344.17 224.75 L344.17 226.20 L344.70 226.20 L348.90 226.20 L349.45 226.20 L349.45 227.50 L350.00 227.50 L350.20 227.50 L350.20 228.80 L350.60 228.80 L350.60 230.10 L351.00 230.10 L351.00 231.40 L351.40 231.40 L351.40 232.70 L351.60 232.70 L351.85 232.70 L351.85 233.93 L352.35 233.93 L352.35 235.17 L352.85 235.17 L352.85 236.40 L353.10 236.40 L353.90 236.40 L353.90 237.70 L355.50 237.70 L355.50 239.00 L356.30 239.00 L356.55 239.00 L356.55 239.50 L356.80 239.50 L364.70 239.50 L365.20 239.50 L365.20 241.10 L365.70 241.10 L366.23 241.10 L366.23 242.15 L367.28 242.15 L367.28 243.20 L367.80 243.20 L368.25 243.20 L368.25 244.43 L369.15 244.43 L369.15 245.67 L370.05 245.67 L370.05 246.90 L370.50 246.90 L379.40 246.90 L379.90 246.90 L379.90 248.50 L380.40 248.50 L380.80 248.50 L380.80 250.05 L381.60 250.05 L381.60 251.60 L382.00 251.60 L386.40 251.60 L386.40 252.00 L390.80 252.00 L391.15 252.00 L391.15 253.25 L391.85 253.25 L391.85 254.50 L392.20 254.50 L392.93 254.50 L392.93 255.55 L394.38 255.55 L394.38 256.60 L395.10 256.60 L395.45 256.60 L395.45 258.05 L396.15 258.05 L396.15 259.50 L396.50 259.50 L397.60 259.50 L397.60 261.00 L398.70 261.00 L399.05 261.00 L399.05 262.40 L399.40 262.40 L403.80 262.40 L403.98 262.40 L403.98 263.85 L404.33 263.85 L404.33 265.30 L404.50 265.30 L405.20 265.30 L405.20 267.00 L405.90 267.00 L411.00 267.00 L411.18 267.00 L411.18 268.30 L411.52 268.30 L411.52 269.60 L411.70 269.60 L412.25 269.60 L412.25 271.05 L413.35 271.05 L413.35 272.50 L413.90 272.50 L414.02 272.50 L414.02 273.70 L414.25 273.70 L414.25 274.90 L414.48 274.90 L414.48 276.10 L414.60 276.10 L426.10 276.10 L426.28 276.10 L426.28 277.55 L426.62 277.55 L426.62 279.00 L426.80 279.00 L434.10 279.00 L434.19 279.00 L434.19 280.20 L434.36 280.20 L434.36 281.40 L434.54 281.40 L434.54 282.60 L434.71 282.60 L434.71 283.80 L434.80 283.80 L442.30 283.80 L442.35 283.80 L442.35 284.95 L442.45 284.95 L442.45 286.10 L442.55 286.10 L442.55 287.25 L442.65 287.25 L442.65 288.40 L442.70 288.40 L450.30 288.40 L450.36 288.40 L450.36 289.57 L450.49 289.57 L450.49 290.75 L450.61 290.75 L450.61 291.93 L450.74 291.93 L450.74 293.10 L450.80 293.10 L462.40 293.10 L462.48 293.10 L462.48 294.43 L462.65 294.43 L462.65 295.77 L462.82 295.77 L462.82 297.10 L462.90 297.10 L471.40 297.10 L471.43 297.10 L471.43 298.44 L471.49 298.44 L471.49 299.79 L471.54 299.79 L471.54 301.13 L471.60 301.13 L471.60 302.47 L471.66 302.47 L471.66 303.81 L471.71 303.81 L471.71 305.16 L471.77 305.16 L471.77 306.50 L471.80 306.50 L480.90 306.50 L480.92 306.50 L480.92 307.75 L480.96 307.75 L480.96 309.00 L481.00 309.00 L481.00 310.25 L481.05 310.25 L481.05 311.50 L481.09 311.50 L481.09 312.75 L481.13 312.75 L481.13 314.00 L481.17 314.00 L481.17 315.25 L481.21 315.25 L481.21 316.50 L481.25 316.50 L481.25 317.75 L481.30 317.75 L481.30 319.00 L481.34 319.00 L481.34 320.25 L481.38 320.25 L481.38 321.50 L481.40 321.50 L499.00 321.50 L499.00 345.70" fill="none" stroke="#23417a" stroke-width="1.45" stroke-linejoin="miter"/>
<rect x="0.5" y="0.5" width="519" height="380" fill="none" stroke="#000" stroke-width="1"/>
</svg>
</body></html>
